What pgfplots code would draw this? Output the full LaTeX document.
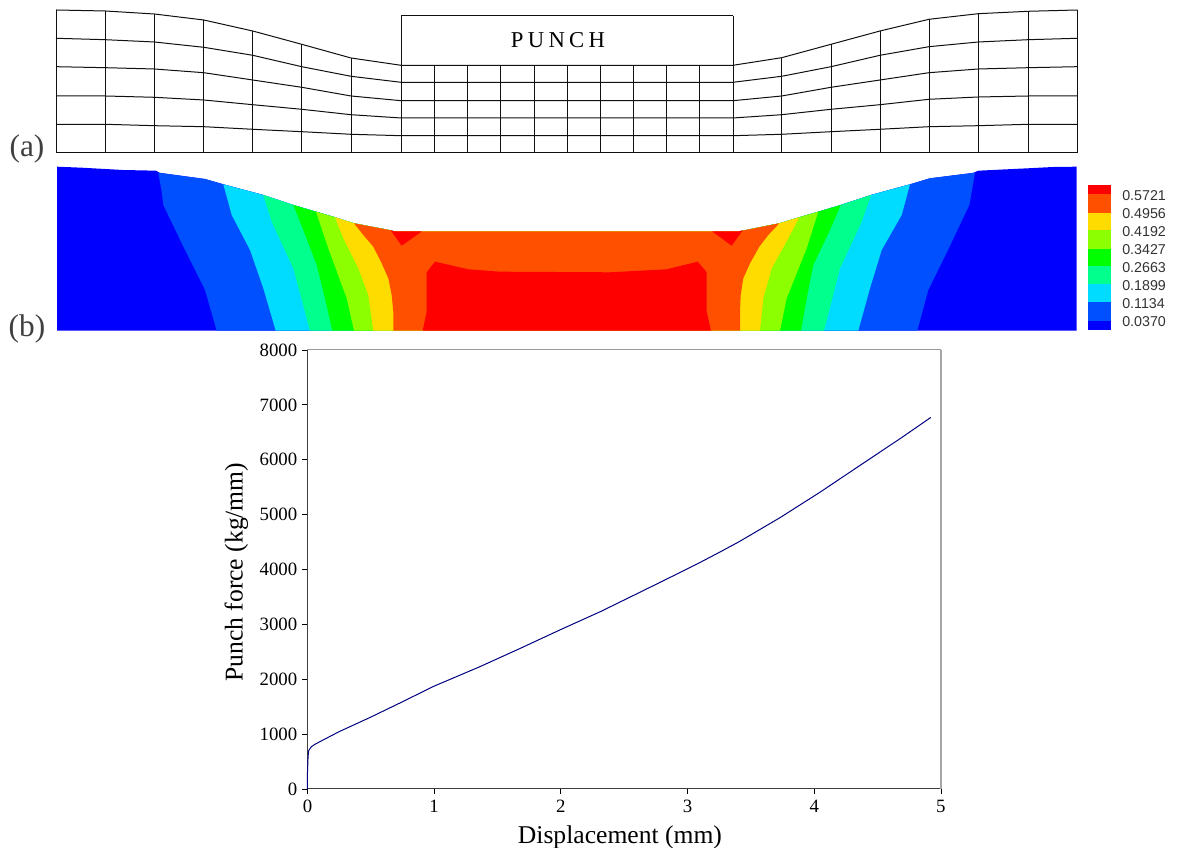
\documentclass[border=0pt]{standalone}
\usepackage{pgfplots}
\pgfplotsset{compat=1.18}
\usepackage{pgfplotstable}
\usepackage{fontspec}
\setmainfont{Liberation Serif}
\newfontfamily\arialf{Liberation Sans}
\newfontfamily\punchf[LetterSpace=19]{Liberation Serif}
\definecolor{c0}{HTML}{0000FF}
\definecolor{c1}{HTML}{0050FF}
\definecolor{c2}{HTML}{00DCFF}
\definecolor{c3}{HTML}{00FF8C}
\definecolor{c4}{HTML}{00FF00}
\definecolor{c5}{HTML}{8CFF00}
\definecolor{c6}{HTML}{FFDC00}
\definecolor{c7}{HTML}{FF5000}
\definecolor{c8}{HTML}{FF0000}
\definecolor{meshc}{HTML}{101010}
\pgfplotstableread{
x      r1   r2   r3    r4    r5    r6
56     10   38.3 66.7  96    124.3 152.7
105.3  11   39.7 67.7  96    124.3 152.7
154.3  14   42   69    97.3  125.7 152.7
203.7  20   47.3 72.7  100   126.7 152.7
252.7  31   55.3 80    104.7 129.3 152.7
301.7  44.3 66.7 87.3  109.3 131.7 152.7
351    58   76.3 96    114.7 134.3 152.7
401    65.3 82.3 100.7 118   135.7 152.7
733    65.3 82.3 100.7 118   135.7 152.7
781.7  57.7 76.3 96    114.7 134.3 152.7
831    44.3 66.7 87.3  109.3 131.7 152.7
880    31   55.3 80    104.7 129.3 152.7
929    19.3 46.7 72.7  99.3  126.7 152.7
978.3  13.7 42   69    97    125.7 152.7
1028.3 11.3 39.7 67.7  96    124.3 152.7
1077.3 10   38.3 66.7  96    124.3 152.7
}\meshtable
\pgfplotstableread{
d     f
0     0
0     300
0.005 600
0.01  700
0.03  770
0.06  815
0.1   865
0.2   985
0.25  1045
0.5   1310
0.75  1590
1     1875
1.25  2120
1.36  2228
1.68  2563
1.99  2896
2.31  3230
2.62  3580
2.94  3945
3.1   4130
3.25  4311
3.41  4510
3.73  4945
4.04  5400
4.36  5895
4.68  6388
4.92  6771
}\forcetable
\begin{document}
\begin{tikzpicture}
\useasboundingbox (0,0) rectangle (882.75pt,636pt);
\begin{axis}[
  at={(0pt,0pt)},anchor=south west,scale only axis,
  width=882.75pt,height=636pt,
  xmin=0,xmax=1177,ymin=0,ymax=848,y dir=reverse,
  axis lines=none,clip=false,
]
% --- contour bands (b)
\addplot[fill=c0,draw=none] coordinates {(57,330.7)(57,166.7)(81.7,167.7)(123,170)(156,170.7)(160,172.9)(205,179)(223.3,184.3)(263.3,195)(293.3,205)(316,211.7)(335,217.3)(354,223.3)(390.7,230.3)(395,231.5)(738.3,231.5)(779.3,223.3)(799.3,217.3)(818.3,211.7)(840.7,205)(871,195)(910,184.3)(930,178.3)(973,172.9)(978.3,170.7)(1028,168.3)(1053,167)(1076.7,166.7)(1076.7,330.7)} --cycle;
\addplot[fill=c1,draw=none] coordinates {(216.7,330.7)(205,290)(185,250)(163.3,205)(161.7,191.7)(158.3,172.7)(205,179)(223.3,184.3)(263.3,195)(293.3,205)(316,211.7)(335,217.3)(354,223.3)(390.7,230.3)(395,231.5)(738.3,231.5)(779.3,223.3)(799.3,217.3)(818.3,211.7)(840.7,205)(871,195)(910,184.3)(930,178.3)(975,172.7)(972,190)(969.3,205)(948,250)(928.3,290)(917.3,330.7)} --cycle;
\addplot[fill=c2,draw=none] coordinates {(275.7,330.7)(263.3,288.3)(250,250)(231.7,215)(223.3,184.3)(263.3,195)(293.3,205)(316,211.7)(335,217.3)(354,223.3)(390.7,230.3)(395,231.5)(738.3,231.5)(779.3,223.3)(799.3,217.3)(818.3,211.7)(840.7,205)(871,195)(910,184.3)(901.7,215)(881.7,250)(870,288.3)(858.3,330.7)} --cycle;
\addplot[fill=c3,draw=none] coordinates {(310,330.7)(293.3,268.3)(271.7,221.7)(263.3,195)(293.3,205)(316,211.7)(335,217.3)(354,223.3)(390.7,230.3)(395,231.5)(738.3,231.5)(779.3,223.3)(799.3,217.3)(818.3,211.7)(840.7,205)(871,195)(861.7,221.7)(840,268.3)(824,330.7)} --cycle;
\addplot[fill=c4,draw=none] coordinates {(332.3,330.7)(325,298.3)(316.7,265)(303.3,230)(293.3,205)(316,211.7)(335,217.3)(354,223.3)(390.7,230.3)(395,231.5)(738.3,231.5)(779.3,223.3)(799.3,217.3)(818.3,211.7)(840.7,205)(830,230)(813.3,265)(806.7,298.3)(801,330.7)} --cycle;
\addplot[fill=c5,draw=none] coordinates {(354,330.7)(346.7,298.3)(328.3,248.3)(316,211.7)(335,217.3)(354,223.3)(390.7,230.3)(395,231.5)(738.3,231.5)(779.3,223.3)(799.3,217.3)(818.3,211.7)(806.7,248.3)(786.7,298.3)(780,330.7)} --cycle;
\addplot[fill=c6,draw=none] coordinates {(373.3,330.7)(368.3,295)(358.3,268.3)(343.3,238.3)(335,217.3)(354,223.3)(390.7,230.3)(395,231.5)(738.3,231.5)(779.3,223.3)(799.3,217.3)(788.3,238.3)(771.7,268.3)(763.3,298.3)(760,330.7)} --cycle;
\addplot[fill=c7,draw=none] coordinates {(393.3,330.7)(393.3,311.7)(391.7,295)(388.3,278.3)(381.7,263.3)(373.3,246.7)(363.3,235)(354,223.3)(390.7,230.3)(395,231.5)(738.3,231.5)(779.3,223.3)(768.3,235)(759.3,246.7)(750,263.3)(743.3,278.3)(740.7,295)(740,311.7)(740,330.7)} --cycle;
\addplot[fill=c8,draw=none] coordinates {(390.7,230.3)(401.7,245.7)(421.7,231.5)(395,231.5)} --cycle;
\addplot[fill=c8,draw=none] coordinates {(712.3,231.5)(731.7,245.7)(742.7,230.3)(738.3,231.5)} --cycle;
\addplot[fill=c8,draw=none] coordinates {(422.7,330.7)(426.7,311.7)(426.7,272.3)(435,261.7)(468.3,269.3)(500,271.7)(610,272.3)(666.7,269.3)(697.7,261.7)(706.7,272.3)(706.7,311.7)(711,330.7)} --cycle;
% --- colour key
\addplot[fill=c8,draw=none] coordinates {(1088.3,185)(1111,185)(1111,194.3)(1088.3,194.3)} --cycle;
\addplot[fill=c7,draw=none] coordinates {(1088.3,194.3)(1111,194.3)(1111,212.7)(1088.3,212.7)} --cycle;
\addplot[fill=c6,draw=none] coordinates {(1088.3,212.7)(1111,212.7)(1111,230.3)(1088.3,230.3)} --cycle;
\addplot[fill=c5,draw=none] coordinates {(1088.3,230.3)(1111,230.3)(1111,248.7)(1088.3,248.7)} --cycle;
\addplot[fill=c4,draw=none] coordinates {(1088.3,248.7)(1111,248.7)(1111,266.3)(1088.3,266.3)} --cycle;
\addplot[fill=c3,draw=none] coordinates {(1088.3,266.3)(1111,266.3)(1111,284.3)(1088.3,284.3)} --cycle;
\addplot[fill=c2,draw=none] coordinates {(1088.3,284.3)(1111,284.3)(1111,302.3)(1088.3,302.3)} --cycle;
\addplot[fill=c1,draw=none] coordinates {(1088.3,302.3)(1111,302.3)(1111,321)(1088.3,321)} --cycle;
\addplot[fill=c0,draw=none] coordinates {(1088.3,321)(1111,321)(1111,330)(1088.3,330)} --cycle;
\node[anchor=west,inner sep=0pt,font=\arialf\fontsize{10.7}{12}\selectfont,text=black!80] at (axis cs:1122,195.5) {0.5721};
\node[anchor=west,inner sep=0pt,font=\arialf\fontsize{10.7}{12}\selectfont,text=black!80] at (axis cs:1122,213.5) {0.4956};
\node[anchor=west,inner sep=0pt,font=\arialf\fontsize{10.7}{12}\selectfont,text=black!80] at (axis cs:1122,231.7) {0.4192};
\node[anchor=west,inner sep=0pt,font=\arialf\fontsize{10.7}{12}\selectfont,text=black!80] at (axis cs:1122,249.5) {0.3427};
\node[anchor=west,inner sep=0pt,font=\arialf\fontsize{10.7}{12}\selectfont,text=black!80] at (axis cs:1122,267.5) {0.2663};
\node[anchor=west,inner sep=0pt,font=\arialf\fontsize{10.7}{12}\selectfont,text=black!80] at (axis cs:1122,285.5) {0.1899};
\node[anchor=west,inner sep=0pt,font=\arialf\fontsize{10.7}{12}\selectfont,text=black!80] at (axis cs:1122,303.5) {0.1134};
\node[anchor=west,inner sep=0pt,font=\arialf\fontsize{10.7}{12}\selectfont,text=black!80] at (axis cs:1122,321.5) {0.0370};
% --- mesh (a)
\addplot[meshc,line width=0.75pt] table[x=x,y=r1] {\meshtable};
\addplot[meshc,line width=0.75pt] table[x=x,y=r2] {\meshtable};
\addplot[meshc,line width=0.75pt] table[x=x,y=r3] {\meshtable};
\addplot[meshc,line width=0.75pt] table[x=x,y=r4] {\meshtable};
\addplot[meshc,line width=0.75pt] table[x=x,y=r5] {\meshtable};
\addplot[meshc,line width=0.75pt] table[x=x,y=r6] {\meshtable};
\addplot[meshc,line width=0.75pt] coordinates {(56,10)(56,152.7)};
\addplot[meshc,line width=0.75pt] coordinates {(105.3,11)(105.3,152.7)};
\addplot[meshc,line width=0.75pt] coordinates {(154.3,14)(154.3,152.7)};
\addplot[meshc,line width=0.75pt] coordinates {(203.7,20)(203.7,152.7)};
\addplot[meshc,line width=0.75pt] coordinates {(252.7,31)(252.7,152.7)};
\addplot[meshc,line width=0.75pt] coordinates {(301.7,44.3)(301.7,152.7)};
\addplot[meshc,line width=0.75pt] coordinates {(351,58)(351,152.7)};
\addplot[meshc,line width=0.75pt] coordinates {(401,15.7)(401,152.7)};
\addplot[meshc,line width=0.75pt] coordinates {(434.3,65.3)(434.3,152.7)};
\addplot[meshc,line width=0.75pt] coordinates {(467.7,65.3)(467.7,152.7)};
\addplot[meshc,line width=0.75pt] coordinates {(500.7,65.3)(500.7,152.7)};
\addplot[meshc,line width=0.75pt] coordinates {(534,65.3)(534,152.7)};
\addplot[meshc,line width=0.75pt] coordinates {(567,65.3)(567,152.7)};
\addplot[meshc,line width=0.75pt] coordinates {(600,65.3)(600,152.7)};
\addplot[meshc,line width=0.75pt] coordinates {(633.3,65.3)(633.3,152.7)};
\addplot[meshc,line width=0.75pt] coordinates {(666.3,65.3)(666.3,152.7)};
\addplot[meshc,line width=0.75pt] coordinates {(699.7,65.3)(699.7,152.7)};
\addplot[meshc,line width=0.75pt] coordinates {(733,15.7)(733,152.7)};
\addplot[meshc,line width=0.75pt] coordinates {(781.7,57.7)(781.7,152.7)};
\addplot[meshc,line width=0.75pt] coordinates {(831,44.3)(831,152.7)};
\addplot[meshc,line width=0.75pt] coordinates {(880,31)(880,152.7)};
\addplot[meshc,line width=0.75pt] coordinates {(929,19.3)(929,152.7)};
\addplot[meshc,line width=0.75pt] coordinates {(978.3,13.7)(978.3,152.7)};
\addplot[meshc,line width=0.75pt] coordinates {(1028.3,11.3)(1028.3,152.7)};
\addplot[meshc,line width=0.75pt] coordinates {(1077.3,10)(1077.3,152.7)};
\addplot[meshc,line width=0.75pt] coordinates {(401,15.7)(733,15.7)};
\node[inner sep=0pt,font=\punchf\fontsize{17}{19}\selectfont,text=black] at (axis cs:558,40.5) {PUNCH};
\node[inner sep=0pt,font=\fontsize{23.5}{25}\selectfont,text=black!75] at (axis cs:27,148.5) {(a)};
\node[inner sep=0pt,font=\fontsize{23.5}{25}\selectfont,text=black!75] at (axis cs:27,328.5) {(b)};
\end{axis}
\begin{axis}[
  at={(230.6pt,44.25pt)},anchor=south west,scale only axis,
  width=475.1pt,height=329.25pt,
  xmin=0,xmax=5,ymin=0,ymax=8000,
  axis lines*=left,
  axis line style={-,black!75,line width=0.75pt},
  xtick={0,1,2,3,4,5},ytick={0,1000,2000,3000,4000,5000,6000,7000,8000},
  tick align=outside,
  tick style={black,line width=0.6pt},
  major tick length=3.75pt,
  tick label style={font=\fontsize{14.1}{15}\selectfont},
  xticklabel style={yshift=-1pt},
  yticklabel style={xshift=-0.4pt},
  /pgf/number format/assume math mode=true,
  /pgf/number format/1000 sep={},
  xlabel={Displacement (mm)},ylabel={Punch force (kg/mm)},
  label style={font=\fontsize{19.2}{21}\selectfont},
  xlabel style={at={(axis description cs:0.5,0)},anchor=north,yshift=-24pt,xshift=-3.2pt},
  ylabel style={at={(axis description cs:0,0.5)},anchor=south,yshift=41pt,xshift=-2pt},
  clip=false,
]
\draw[black!40,line width=0.75pt] (rel axis cs:0,1)--(rel axis cs:1,1);
\draw[black!35,line width=1.1pt] (rel axis cs:1,1)--(rel axis cs:1,0);
\addplot[color={rgb,255:red,0;green,0;blue,128},line width=0.75pt] table[x=d,y=f] {\forcetable};
\end{axis}
\end{tikzpicture}
\end{document}
